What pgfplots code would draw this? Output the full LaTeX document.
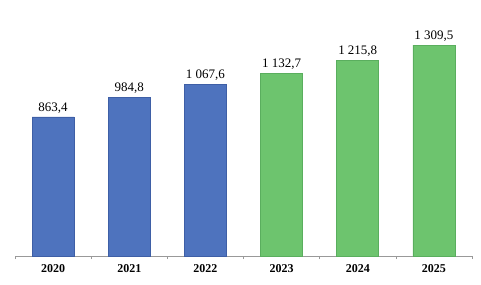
\documentclass[border=0pt]{standalone}
\usepackage{fontspec}
\setmainfont{Liberation Serif}
\usepackage{pgfplots}
\pgfplotsset{compat=1.18}
\definecolor{barblue}{HTML}{4E73BE}
\definecolor{barblueedge}{HTML}{3E5FA6}
\definecolor{bargreen}{HTML}{6DC46E}
\definecolor{bargreenedge}{HTML}{5AAE5E}
\begin{document}
\begin{tikzpicture}[x=1pt,y=1pt]
\useasboundingbox (0,0) rectangle (481,284);
\begin{axis}[
  at={(15pt,28pt)}, anchor=south west,
  scale only axis, width=457pt, height=256pt,
  xmin=-0.5, xmax=5.5, ymin=0, ymax=1590,
  axis x line=bottom, axis y line=none,
  axis line style={gray!80, line width=0.6pt, -},
  xtick={0,1,2,3,4,5},
  xticklabels={2020,2021,2022,2023,2024,2025},
  major tick length=0pt,
  minor xtick={-0.5,0.5,1.5,2.5,3.5,4.5,5.5},
  minor tick length=3pt, tick align=outside,
  minor tick style={gray!80, line width=0.6pt},
  xticklabel style={font=\fontsize{12}{14}\selectfont\bfseries, yshift=-5pt},
  nodes near coords, point meta=explicit symbolic,
  nodes near coords style={font=\fontsize{13}{15}\selectfont, anchor=south, yshift=0pt},
  clip=false,
]
\addplot[ybar, bar shift=0pt, bar width=42pt, fill=barblue, draw=barblueedge, line width=0.6pt]
  coordinates {(0,863.4) [{863,4}] (1,984.8) [{984,8}] (2,1067.6) [{1 067,6}]};
\addplot[ybar, bar shift=0pt, bar width=42pt, fill=bargreen, draw=bargreenedge, line width=0.6pt]
  coordinates {(3,1132.7) [{1 132,7}] (4,1215.8) [{1 215,8}] (5,1309.5) [{1 309,5}]};
\end{axis}
\end{tikzpicture}
\end{document}
